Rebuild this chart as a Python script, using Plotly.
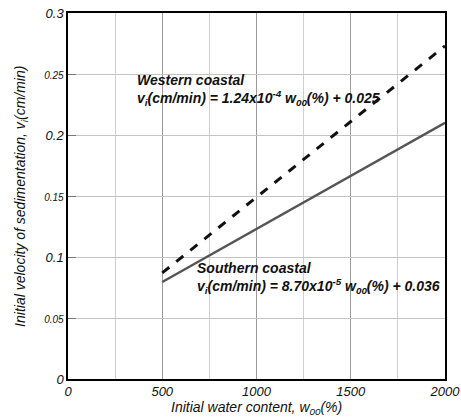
import plotly.graph_objects as go

w_range = [500, 2000]
western_slope, western_icpt = 1.24e-4, 0.025
southern_slope, southern_icpt = 8.70e-5, 0.036
western_y = [western_slope * w + western_icpt for w in w_range]
southern_y = [southern_slope * w + southern_icpt for w in w_range]

x_ticks = [0, 500, 1000, 1500, 2000]
y_ticks = [0, 0.05, 0.1, 0.15, 0.2, 0.25, 0.3]
y_labels = ["0", "0.05", "0.1", "0.15", "0.2", "0.25", "0.3"]

FONT = "Liberation Sans, Arial, sans-serif"

fig = go.Figure()
fig.add_trace(go.Scatter(x=w_range, y=southern_y, mode="lines",
                         line=dict(color="#555555", width=2.5), showlegend=False))
fig.add_trace(go.Scatter(x=w_range, y=western_y, mode="lines",
                         line=dict(color="#111111", width=3, dash="dash"), showlegend=False))

ytext = []
for v, l in zip(y_ticks, y_labels):
    if round(v * 100) % 10 == 0:
        ytext.append(f"<i>{l}</i>")
    else:
        ytext.append(f"<span style='font-size:10px'><i>{l}</i></span>")

fig.update_layout(
    width=461, height=419,
    margin=dict(l=68, r=16, t=13, b=40),
    paper_bgcolor="white", plot_bgcolor="white",
    font=dict(family=FONT, color="#111111"),
    xaxis=dict(range=[0, 2000], tickvals=x_ticks,
               ticktext=[f"<i>{t}</i>" for t in x_ticks],
               tickfont=dict(size=13), automargin=False,
               showgrid=True, gridcolor="#9a9a9a", gridwidth=1,
               minor=dict(dtick=250, showgrid=True, gridcolor="#cfcfcf", gridwidth=1),
               showline=True, linecolor="black", linewidth=1.5, mirror=True,
               zeroline=False, ticks=""),
    yaxis=dict(range=[0, 0.3], tickvals=y_ticks, ticktext=ytext,
               tickfont=dict(size=13), automargin=False,
               showgrid=True, gridcolor="#c4c4c4", gridwidth=1,
               showline=True, linecolor="black", linewidth=1.5, mirror=True,
               zeroline=False, ticks="inside", ticklen=8, tickcolor="#777777"),
)

# axis titles
fig.add_annotation(x=0.5, y=1, xref="paper", yref="paper", yshift=-(366 + 18),
                   xanchor="center", yanchor="top",
                   showarrow=False, font=dict(size=14, family=FONT, color="#111111"),
                   text="<i>Initial water content, w<sub>00</sub>(%)</i>")
fig.add_annotation(x=-0.125, y=0.5, xref="paper", yref="paper", xanchor="center", yanchor="middle",
                   showarrow=False, textangle=-90, font=dict(size=14, family=FONT, color="#111111"),
                   text="<i>Initial velocity of sedimentation, v<sub>i</sub>(cm/min)</i>")

fig.add_annotation(x=355, y=0.237, xref="x", yref="y", xanchor="left", yanchor="middle",
                   align="left", showarrow=False, font=dict(size=14, family=FONT, color="#111111"),
                   text="<b><i>Western coastal<br>v<sub>i</sub>(cm/min) = 1.24x10<sup>-4</sup> w<sub>00</sub>(%) + 0.025</i></b>")
fig.add_annotation(x=674, y=0.083, xref="x", yref="y", xanchor="left", yanchor="middle",
                   align="left", showarrow=False, font=dict(size=14, family=FONT, color="#111111"),
                   text="<b><i>Southern coastal<br>v<sub>i</sub>(cm/min) = 8.70x10<sup>-5</sup> w<sub>00</sub>(%) + 0.036</i></b>")

fig.write_html("out.html")
